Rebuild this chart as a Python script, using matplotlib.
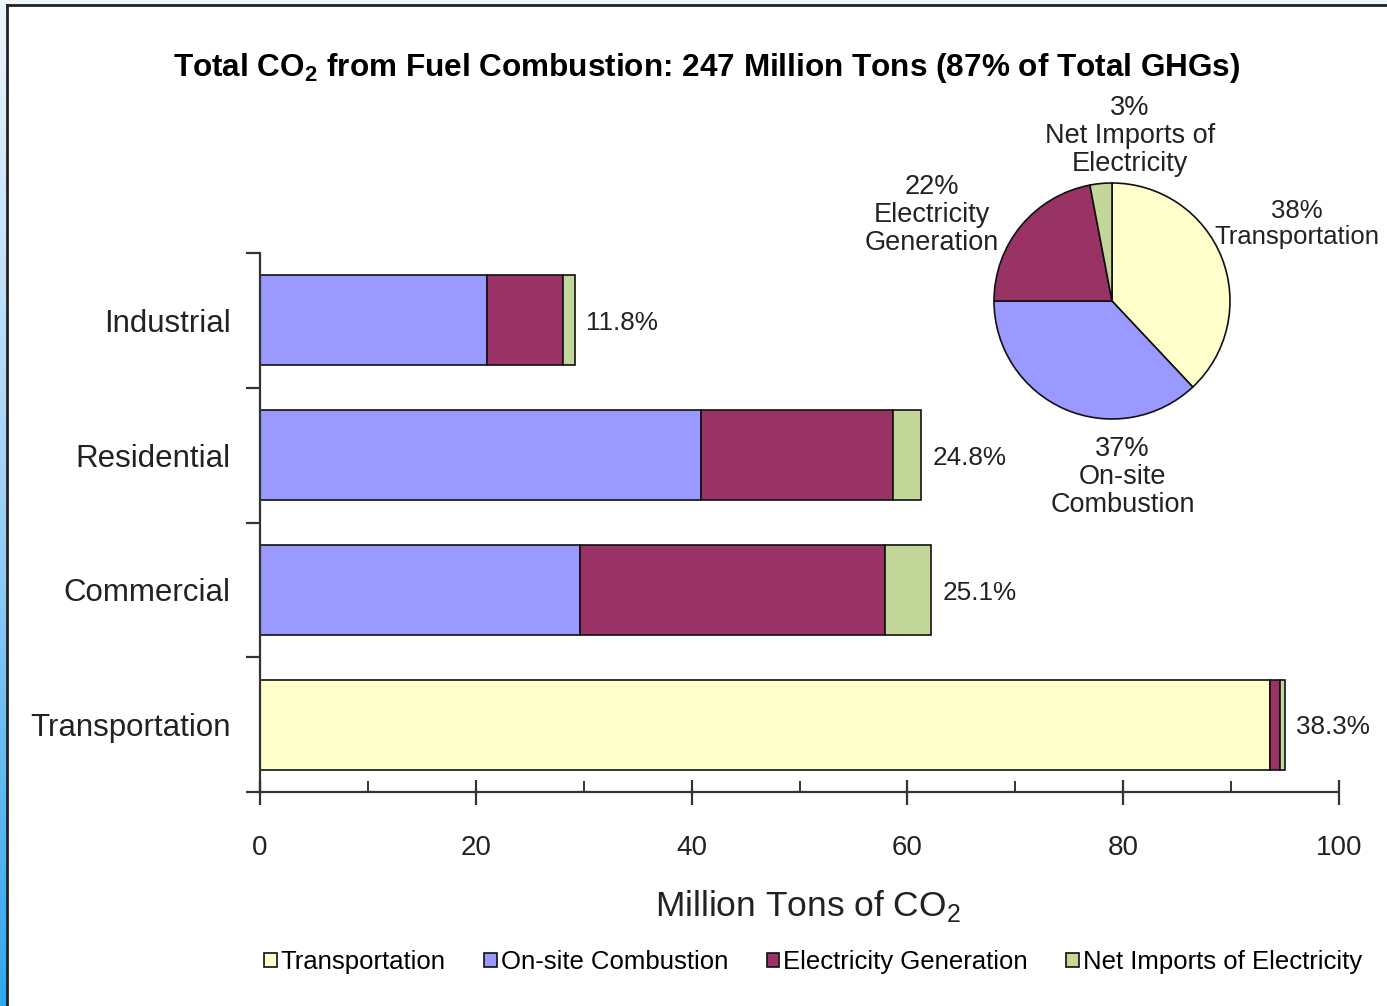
import numpy as np
import matplotlib
matplotlib.use("Agg")
import matplotlib.pyplot as plt
from matplotlib.lines import Line2D
from matplotlib.patches import Patch
from matplotlib.colors import LinearSegmentedColormap

plt.rcParams["font.family"] = ["Liberation Sans", "DejaVu Sans"]
plt.rcParams["mathtext.fontset"] = "custom"
plt.rcParams["mathtext.rm"] = "Liberation Sans"
plt.rcParams["mathtext.bf"] = "Liberation Sans:bold"

# data (million tons CO2), bottom to top
sectors = ["Transportation", "Commercial", "Residential", "Industrial"]
transport = [93.6, 0.0, 0.0, 0.0]
onsite = [0.0, 29.7, 40.9, 21.0]
elec_gen = [0.9, 28.2, 17.8, 7.1]
net_imports = [0.5, 4.3, 2.6, 1.1]
share_labels = ["38.3%", "25.1%", "24.8%", "11.8%"]

series_names = ["Transportation", "On-site Combustion", "Electricity Generation",
                "Net Imports of Electricity"]
colors = ["#FFFFCC", "#9999FF", "#993366", "#C4D79B"]

pie_shares = [38, 37, 22, 3]
pie_labels = ["38%\nTransportation", "37%\nOn-site\nCombustion",
              "22%\nElectricity\nGeneration", "3%\nNet Imports of\nElectricity"]

W, H = 1387, 1006
fig = plt.figure(figsize=(W / 100, H / 100), dpi=100)
fig.patch.set_facecolor("white")

# blue strip at the left edge + frame lines
strip = fig.add_axes([0, 0, 7 / W, 1])
grad = np.linspace(0, 1, 256).reshape(-1, 1)
cm = LinearSegmentedColormap.from_list("s", ["#EEF5FD", "#9FD0F5", "#2FA8EE"])
strip.imshow(grad, aspect="auto", cmap=cm, extent=[0, 1, 1, 0])
strip.axis("off")
fig.patches.append(plt.Rectangle((0, 1 - 5 / H), 1, 5 / H, transform=fig.transFigure,
                                 facecolor="#EEF5FD", edgecolor="none", zorder=-1))
fig.add_artist(Line2D([7 / W, 7 / W], [0, 1 - 5 / H], transform=fig.transFigure,
                      color="#222222", lw=2))
fig.add_artist(Line2D([7 / W, 1], [1 - 5 / H, 1 - 5 / H], transform=fig.transFigure,
                      color="#222222", lw=2))

# bar chart
ax = fig.add_axes([260 / W, 1 - 792 / H, 1079 / W, 539 / H])
y = np.arange(len(sectors))
left = np.zeros(len(sectors))
for vals, name, c in zip([transport, onsite, elec_gen, net_imports], series_names, colors):
    vals = np.array(vals)
    ax.barh(y, vals, left=left, height=0.667, color=c, edgecolor="#111111",
            linewidth=1.2, label=name)
    left = left + vals
for yi, tot, lab in zip(y, left, share_labels):
    ax.annotate(lab, (tot, yi), xytext=(8, -2), textcoords="offset points",
                va="center", ha="left", fontsize=18.8, color="#222222")

ax.set_xlim(0, 100)
ax.set_ylim(-0.5, 3.5)
for s in ["top", "right"]:
    ax.spines[s].set_visible(False)
for s in ["left", "bottom"]:
    ax.spines[s].set_color("#333333")
    ax.spines[s].set_linewidth(1.6)

ax.set_xticks(np.arange(0, 101, 20))
ax.set_xticks(np.arange(10, 100, 20), minor=True)
ax.tick_params(axis="x", which="major", direction="inout", length=18, width=1.6,
               color="#333333", labelsize=20, pad=22, labelcolor="#222222")
ax.tick_params(axis="x", which="minor", direction="in", length=8, width=1.4,
               color="#333333")
ax.set_yticks(np.arange(-0.5, 3.6, 1.0))
ax.set_yticklabels([])
ax.set_yticks(y, minor=True)
ax.set_yticklabels(sectors, minor=True)
ax.tick_params(axis="y", which="major", direction="out", length=10, width=1.6,
               color="#333333")
ax.tick_params(axis="y", which="minor", length=0, labelsize=22.5, pad=21,
               labelcolor="#222222")
ax.set_xlabel("Million Tons of CO$_\\mathregular{2}$", fontsize=25.5, color="#222222")
ax.xaxis.set_label_coords(0.508, -0.178)

fig.text(707 / W, 1 - 68 / H,
         "Total CO$_\\mathregular{2}$ from Fuel Combustion: 247 Million Tons (87% of Total GHGs)",
         ha="center", va="center", fontsize=22.7, fontweight="bold")

# pie inset
pax = fig.add_axes([(1112 - 118) / W, 1 - (301 + 118) / H, 236 / W, 236 / H])
pax.pie(pie_shares, colors=colors, startangle=90, counterclock=False,
        wedgeprops=dict(edgecolor="#111111", linewidth=1.2))
pax.set_xlim(-1, 1)
pax.set_ylim(-1, 1)
pax.set_aspect("equal")
pax.axis("off")
label_pos = [(1.57, 0.65), (0.09, -1.49), (-1.53, 0.73), (0.15, 1.40)]
label_size = [18.5, 19.5, 19.5, 19.5]
for lab, (px, py), fs in zip(pie_labels, label_pos, label_size):
    pax.text(px, py, lab, ha="center", va="center", fontsize=fs, color="#222222",
             linespacing=1.1, clip_on=False)

handles = [Patch(facecolor=c, edgecolor="#111111", linewidth=1.2) for c in colors]
fig.legend(handles, series_names, loc="center", bbox_to_anchor=(813 / W, 1 - 962 / H),
           ncol=4, frameon=False, fontsize=18.5, handlelength=0.5, handleheight=0.5,
           handletextpad=0.15, columnspacing=1.5)

fig.savefig("out.png", dpi=100, facecolor=fig.get_facecolor())
